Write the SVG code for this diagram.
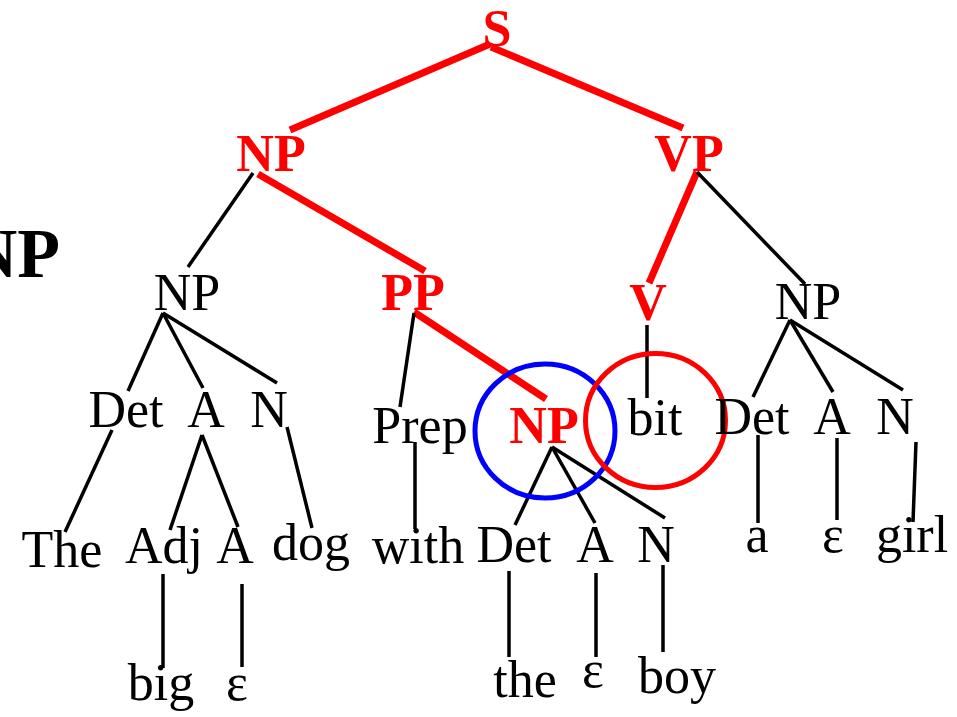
<svg xmlns="http://www.w3.org/2000/svg" width="957" height="717" viewBox="0 0 957 717">
<style>
text{font-family:"Liberation Serif","Times New Roman",serif;font-size:52px;text-anchor:middle;fill:#000}
.r{fill:#ff0000;font-weight:bold}
.b{font-weight:bold}
.k line{stroke:#000;stroke-width:3.5}
.t line{stroke:#ff0000;stroke-width:7}
</style>
<rect width="957" height="717" fill="#fff"/>
<g id="connectors">
<g class="t">
<line x1="490" y1="44" x2="290" y2="130"/>
<line x1="491" y1="47" x2="683" y2="128"/>
<line x1="258" y1="174" x2="425" y2="271"/>
<line x1="414" y1="312" x2="546" y2="399"/>
<line x1="697" y1="172" x2="649" y2="283"/>
</g>
<g class="k">
<line x1="253" y1="173" x2="188" y2="267"/>
<line x1="697" y1="172" x2="805" y2="284"/>
<line x1="163" y1="313" x2="128" y2="391"/>
<line x1="163" y1="313" x2="203" y2="388"/>
<line x1="163" y1="313" x2="277" y2="383"/>
<line x1="112" y1="430" x2="65" y2="532"/>
<line x1="202" y1="435" x2="170" y2="530"/>
<line x1="202" y1="435" x2="238" y2="527"/>
<line x1="287" y1="427" x2="312" y2="528"/>
<line x1="414" y1="313" x2="400" y2="407"/>
<line x1="415" y1="442" x2="415" y2="529"/>
<line x1="163" y1="574" x2="163" y2="668"/>
<line x1="242" y1="584" x2="242" y2="667"/>
<line x1="552" y1="447" x2="515" y2="525"/>
<line x1="552" y1="447" x2="595" y2="523"/>
<line x1="552" y1="447" x2="665" y2="518"/>
<line x1="509" y1="571" x2="509" y2="657"/>
<line x1="596" y1="573" x2="596" y2="657"/>
<line x1="663" y1="565" x2="663" y2="652"/>
<line x1="647" y1="325" x2="647" y2="398"/>
<line x1="790" y1="320" x2="753" y2="397"/>
<line x1="790" y1="320" x2="833" y2="392"/>
<line x1="790" y1="320" x2="903" y2="390"/>
<line x1="758" y1="435" x2="758" y2="523"/>
<line x1="837" y1="438" x2="837" y2="520"/>
<line x1="916" y1="442" x2="913" y2="522"/>
</g>
</g>
<g id="circles">
<ellipse id="blue-circle" cx="545" cy="431" rx="70" ry="67" fill="none" stroke="#0000ff" stroke-width="5"/>
<ellipse id="red-circle" cx="655.5" cy="420.5" rx="70" ry="67" fill="none" stroke="#ff0000" stroke-width="5"/>
</g>
<g id="n-S"><text class="r" x="497" y="46">S</text></g>
<g id="n-NP1"><text class="r" x="271" y="171">NP</text></g>
<g id="n-VP"><text class="r" x="689" y="171">VP</text></g>
<g id="n-NPleft"><text class="b" x="60" y="277" style="text-anchor:end;font-size:70px">NP</text></g>
<g id="n-NP2"><text x="187" y="310">NP</text></g>
<g id="n-PP"><text class="r" x="413" y="310">PP</text></g>
<g id="n-V"><text class="r" x="648" y="320">V</text></g>
<g id="n-NP3"><text x="808" y="319">NP</text></g>
<g id="n-Det1"><text x="126" y="427">Det</text></g>
<g id="n-A1"><text x="206" y="427">A</text></g>
<g id="n-N1"><text x="269" y="427">N</text></g>
<g id="n-Prep"><text x="420" y="443">Prep</text></g>
<g id="n-NP4"><text class="r" x="544" y="443">NP</text></g>
<g id="n-bit"><text x="655" y="435">bit</text></g>
<g id="n-Det3"><text x="752" y="434">Det</text></g>
<g id="n-A3"><text x="832" y="434">A</text></g>
<g id="n-N3"><text x="895" y="434">N</text></g>
<g id="n-The"><text x="62" y="567">The</text></g>
<g id="n-Adj"><text x="164" y="563">Adj</text></g>
<g id="n-A1b"><text x="235" y="563">A</text></g>
<g id="n-dog"><text x="311" y="560">dog</text></g>
<g id="n-with"><text x="418" y="563">with</text></g>
<g id="n-Det2"><text x="514" y="562">Det</text></g>
<g id="n-A2"><text x="595" y="562">A</text></g>
<g id="n-N2"><text x="656" y="562">N</text></g>
<g id="n-a"><text x="757" y="552">a</text></g>
<g id="n-eps3"><text x="833" y="552">ε</text></g>
<g id="n-girl"><text x="912" y="552">girl</text></g>
<g id="n-big"><text x="161" y="700">big</text></g>
<g id="n-eps1"><text x="237" y="700">ε</text></g>
<g id="n-the"><text x="525" y="697">the</text></g>
<g id="n-eps2"><text x="593" y="687">ε</text></g>
<g id="n-boy"><text x="677" y="693">boy</text></g>
</svg>
